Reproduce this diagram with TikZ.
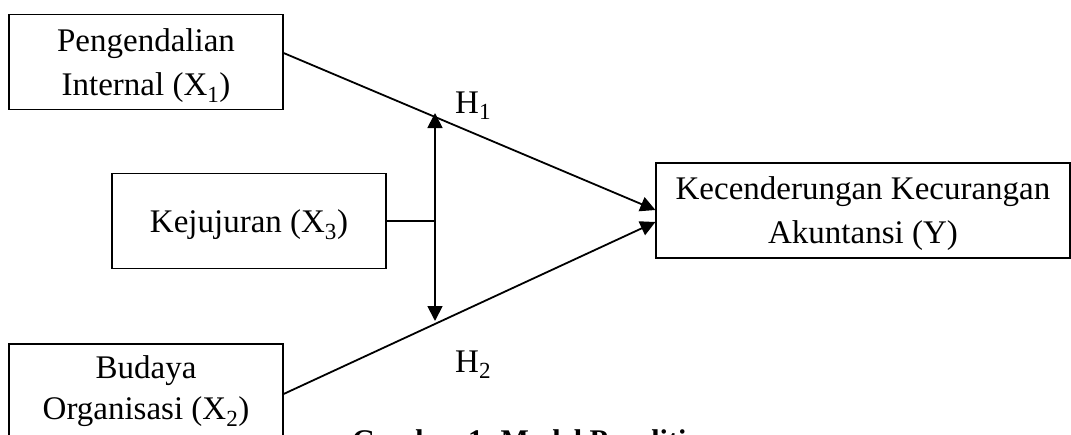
\documentclass[tikz,border=0pt]{standalone}
\usepackage{fontspec}
\setmainfont{Liberation Serif}
\usetikzlibrary{arrows.meta}
\tikzset{
  txt/.style={font=\fontsize{33}{44}\selectfont, inner sep=0pt},
  box/.style={draw, line width=1.2pt, minimum width=274pt, minimum height=95pt, align=center, inner sep=0pt, font=\fontsize{33}{44}\selectfont},
  low/.style={text depth=0pt},
  conn/.style={line width=1.8pt, -{Triangle[width=15pt,length=15pt]}},
  dconn/.style={line width=1.8pt, {Triangle[width=15pt,length=15pt]}-{Triangle[width=15pt,length=15pt]}},
  plain/.style={line width=1.8pt}
}
\begin{document}
\begin{tikzpicture}[x=1pt,y=-1pt]
\clip (0,0) rectangle (1071,434);
\fill[white] (0,0) rectangle (1071,434);
\node[box, low] (x1) at (146,62) {Pengendalian\\Internal (X\textsubscript{1})};
\node[box, low] (x3) at (249,221) {Kejujuran (X\textsubscript{3})};
\node[box, font=\fontsize{33}{41}\selectfont] (x2) at (146,391.5) {Budaya\\Organisasi (X\textsubscript{2})};
\node[box, low, minimum width=414pt] (y) at (863,210.5) {Kecenderungan Kecurangan\\Akuntansi (Y)};
\coordinate (m) at (435,221);
\coordinate (t1) at (435,113);
\coordinate (t2) at (435,321);
\draw[conn] ([yshift=9pt]x1.east) -- ([yshift=0.5pt]y.west);
\draw[conn] ([yshift=-2.5pt]x2.east) -- ([yshift=-11.5pt]y.west);
\draw[plain] (x3.east) -- (m);
\draw[dconn] (t1) -- (t2);
\node[txt, anchor=base west] (h1) at (455,113) {H\textsubscript{1}};
\node[txt, anchor=base west] (h2) at (455,372) {H\textsubscript{2}};
\node[txt, anchor=base west, font=\fontsize{30}{40}\selectfont\bfseries] (cap) at (352,450) {Gambar 1. Model Penelitian};
\end{tikzpicture}
\end{document}
